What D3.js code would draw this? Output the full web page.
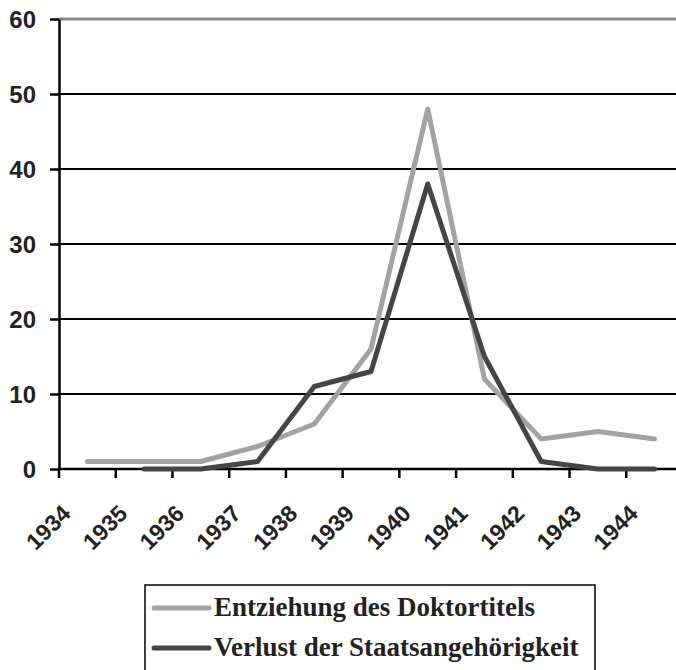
<!DOCTYPE html>
<html>
<head>
<meta charset="utf-8">
<script src="https://cdn.jsdelivr.net/npm/d3@7"></script>
<style>
  body { margin: 0; background: #fff; }
  .tick-label { font-family: "Liberation Sans", Arial, sans-serif; font-weight: bold; font-size: 24px; fill: #222; }
  .x-label { font-size: 23px; }
  .legend-text { font-family: "Liberation Serif", "Times New Roman", serif; font-weight: bold; font-size: 27px; fill: #222; }
</style>
</head>
<body>
<div id="chart-area"></div>
<script>
var years = ['1934', '1935', '1936', '1937', '1938', '1939', '1940', '1941', '1942', '1943', '1944'];
var doktortitel = [1, 1, 1, 3, 6, 16, 48, 12, 4, 5, 4];
var staatsangehoerigkeit = [null, 0, 0, 1, 11, 13, 38, 15, 1, 0, 0];
var yTicks = [0, 10, 20, 30, 40, 50, 60];
var seriesNames = ['Entziehung des Doktortitels', 'Verlust der Staatsangehörigkeit'];
var seriesColors = ['#a3a3a3', '#454545'];

var svg = d3.select('#chart-area')
    .append('svg')
    .attr('width', 676)
    .attr('height', 670);

var x = d3.scaleBand()
    .domain(years)
    .range([59, 683]);

var y = d3.scaleLinear()
    .domain([0, 60])
    .range([469, 19]);

// gridlines
svg.selectAll('.grid')
    .data(yTicks.filter(function (d) { return d > 0; }))
    .enter()
    .append('line')
    .attr('x1', 59)
    .attr('x2', 676)
    .attr('y1', function (d) { return y(d); })
    .attr('y2', function (d) { return y(d); })
    .attr('stroke', function (d) { return d === 60 ? '#8a8a8a' : '#000'; })
    .attr('stroke-width', function (d) { return d === 60 ? 3 : 2; });

// y axis
var yAxisCall = d3.axisLeft(y)
    .tickValues(yTicks)
    .tickSize(9)
    .tickPadding(14)
    .tickSizeOuter(0);
var yAxis = svg.append('g')
    .attr('transform', 'translate(59,0)')
    .call(yAxisCall);
yAxis.select('.domain').attr('stroke', '#000').attr('stroke-width', 2.5);
yAxis.selectAll('.tick line').attr('stroke', '#000').attr('stroke-width', 2.5);
yAxis.selectAll('.tick text').attr('class', 'tick-label').attr('dy', '0.36em');

// x axis baseline + ticks at band edges
svg.append('line')
    .attr('x1', 58)
    .attr('x2', 676)
    .attr('y1', y(0))
    .attr('y2', y(0))
    .attr('stroke', '#000')
    .attr('stroke-width', 2.5);

svg.selectAll('.xtick')
    .data(years)
    .enter()
    .append('line')
    .attr('x1', function (d) { return x(d); })
    .attr('x2', function (d) { return x(d); })
    .attr('y1', y(0))
    .attr('y2', y(0) + 9)
    .attr('stroke', '#000')
    .attr('stroke-width', 2.5);

svg.selectAll('.xlabel')
    .data(years)
    .enter()
    .append('text')
    .attr('class', 'tick-label x-label')
    .attr('text-anchor', 'end')
    .attr('transform', function (d) {
        return 'translate(' + (x(d) + 13) + ',' + 515 + ') rotate(-45)';
    })
    .text(function (d) { return d; });

// lines
var line = d3.line()
    .defined(function (d) { return d.v !== null; })
    .x(function (d) { return x(d.year) + x.bandwidth() / 2; })
    .y(function (d) { return y(d.v); });

[doktortitel, staatsangehoerigkeit].forEach(function (values, i) {
    var pts = years.map(function (yr, j) { return { year: yr, v: values[j] }; });
    svg.append('path')
        .datum(pts)
        .attr('d', line)
        .attr('fill', 'none')
        .attr('stroke', seriesColors[i])
        .attr('stroke-width', 5)
        .attr('stroke-linecap', 'round')
        .attr('stroke-linejoin', 'round');
});

// legend
svg.append('rect')
    .attr('x', 145)
    .attr('y', 585)
    .attr('width', 450)
    .attr('height', 100)
    .attr('fill', 'none')
    .attr('stroke', '#000')
    .attr('stroke-width', 1.5);

var legend = svg.selectAll('.legend')
    .data(seriesNames)
    .enter()
    .append('g')
    .attr('transform', function (d, i) { return 'translate(0,' + (608 + i * 40) + ')'; });

legend.append('line')
    .attr('x1', 154)
    .attr('x2', 209)
    .attr('stroke', function (d, i) { return seriesColors[i]; })
    .attr('stroke-width', 5)
    .attr('stroke-linecap', 'round');

legend.append('text')
    .attr('class', 'legend-text')
    .attr('x', 214)
    .attr('y', 8)
    .text(function (d) { return d; });
</script>
</body>
</html>
